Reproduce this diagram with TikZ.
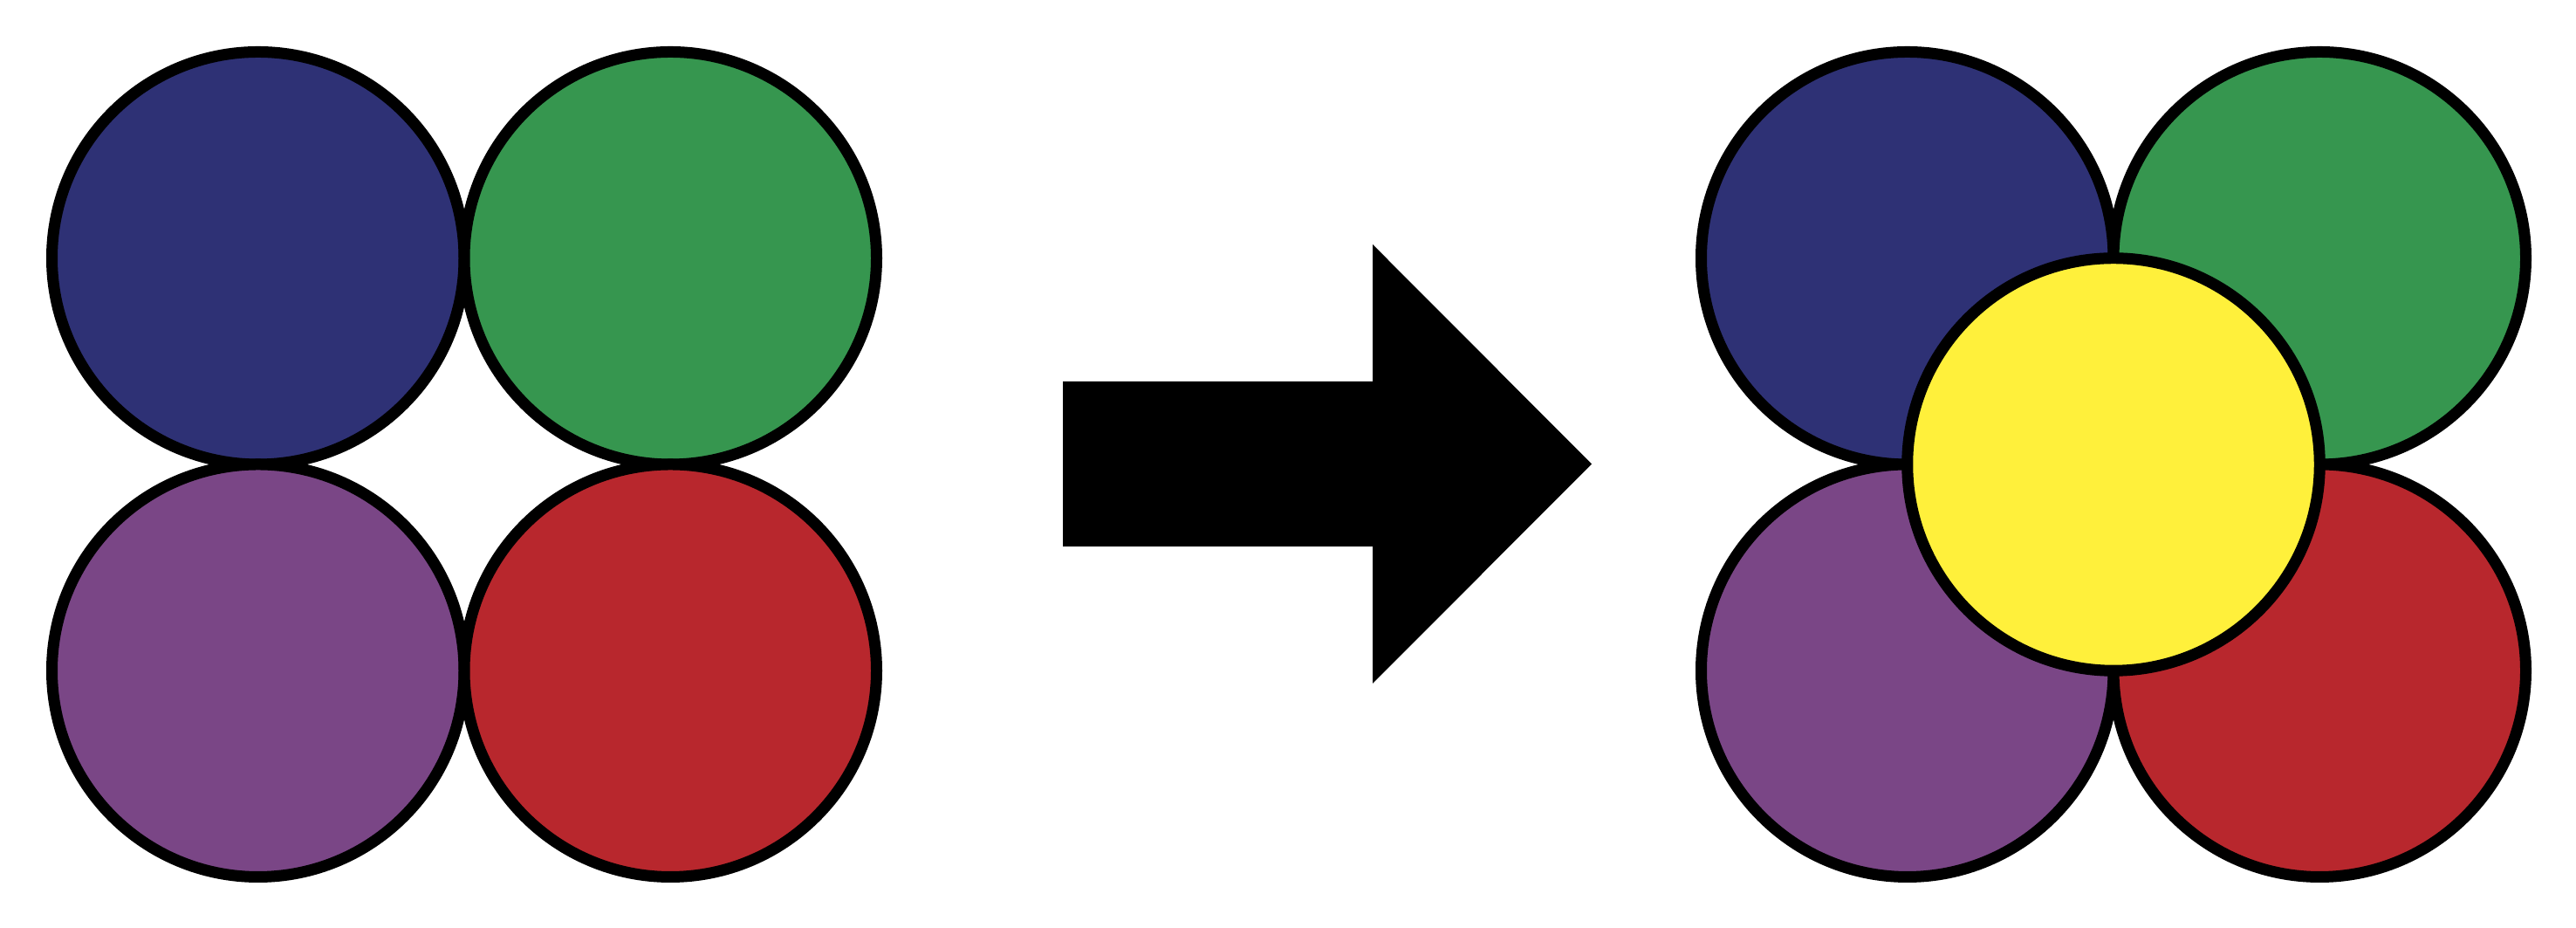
\documentclass[tikz,border=0pt]{standalone}
\definecolor{discoAzul}{HTML}{2E3175}
\definecolor{discoVerde}{HTML}{36964F}
\definecolor{discoMorado}{HTML}{7A4686}
\definecolor{discoRojo}{HTML}{B8272D}
\definecolor{discoAmarillo}{HTML}{FFF03B}
\usetikzlibrary{
	positioning
}
\tikzset{
	disco/.style={
		circle,
		draw=black,
		line width=1.3mm,
		inner sep=0pt,
		minimum size=47.25mm
	},
	flechaBloque/.style={
		fill=black,
		draw=none
	}
}

\begin{document}
\begin{tikzpicture}
		\useasboundingbox (0,0) rectangle (29.52,10.63);
		% antes
		\node[disco, fill=discoAzul] (azulA) at (2.9575,7.6725) {};
		\node[disco, fill=discoVerde] (verdeA) at (7.6825,7.6725) {};
		\node[disco, fill=discoMorado] (moradoA) at (2.9575,2.9475) {};
		\node[disco, fill=discoRojo] (rojoA) at (7.6825,2.9475) {};
		% flecha
		\fill[flechaBloque] (12.18,6.26) -- (15.73,6.26) -- (15.73,7.83) -- (18.24,5.315)
			-- (15.73,2.80) -- (15.73,4.37) -- (12.18,4.37) -- cycle;
		% despues
		\node[disco, fill=discoAzul] (azulB) at (21.8575,7.6725) {};
		\node[disco, fill=discoVerde] (verdeB) at (26.5825,7.6725) {};
		\node[disco, fill=discoMorado] (moradoB) at (21.8575,2.9475) {};
		\node[disco, fill=discoRojo] (rojoB) at (26.5825,2.9475) {};
		\node[disco, fill=discoAmarillo] (amarillo) at (24.22,5.31) {};
	\end{tikzpicture}
\end{document}
